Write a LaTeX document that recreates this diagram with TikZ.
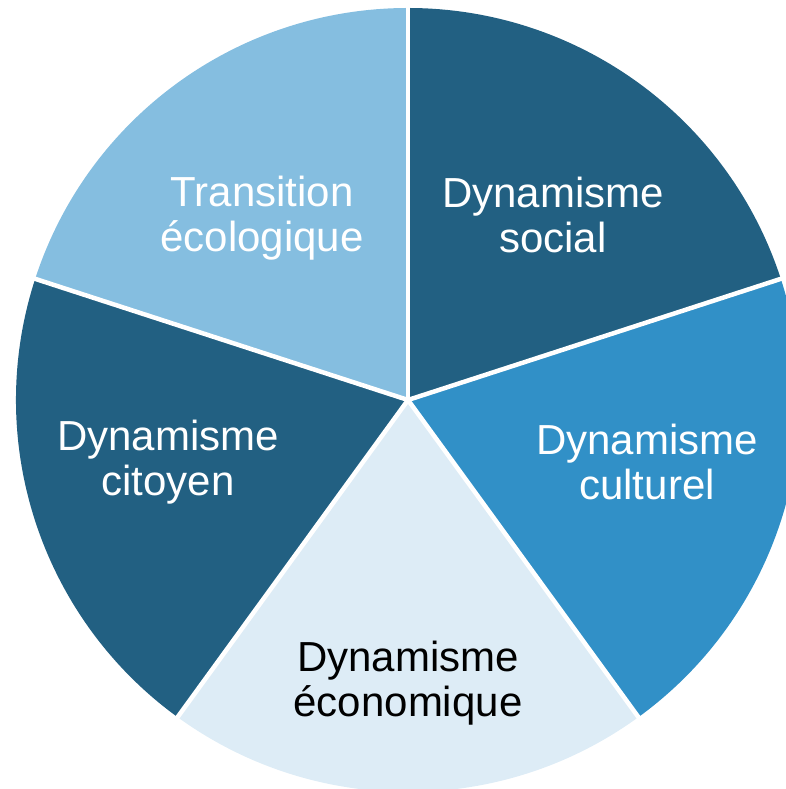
\documentclass[tikz,border=0pt]{standalone}
\usepackage{fontspec}
\setmainfont{Liberation Sans}
\usepackage{tikz}

\definecolor{piedark}{HTML}{226082}
\definecolor{piemid}{HTML}{3190C7}
\definecolor{piepale}{HTML}{DDECF6}
\definecolor{piesky}{HTML}{85BEE0}

\tikzset{
  slicelabel/.style={align=center,font=\fontsize{42}{44.5}\selectfont,text=white,inner sep=0pt},
  sep/.style={white,line width=4.5pt,line cap=butt}
}

\begin{document}
\begin{tikzpicture}[line join=round,x=1pt,y=1pt]
  \useasboundingbox (0,0) rectangle (786,789);
  \clip (0,0) rectangle (786,789);
  \coordinate (c) at (408,389);
  % five equal slices, clockwise from the top
  \fill [piedark] (c) -- ++(18:392) arc (18:90:392) -- cycle;
  \fill [piemid] (c) -- ++(-54:392) arc (-54:18:392) -- cycle;
  \fill [piepale] (c) -- ++(-126:392) arc (-126:-54:392) -- cycle;
  \fill [piedark] (c) -- ++(162:392) arc (162:234:392) -- cycle;
  \fill [piesky] (c) -- ++(90:392) arc (90:162:392) -- cycle;
  % white gaps between the slices
  \foreach \a in {90,18,-54,-126,162}
    \draw [sep] (c) -- ++(\a:400);
  % labels
  \node [slicelabel] (social) at (553,574) {Dynamisme\\social};
  \node [slicelabel] (culturel) at (647,327) {Dynamisme\\culturel};
  \node [slicelabel,text=black] (economique) at (408,106) {Dynamisme\\économique};
  \node [slicelabel] (citoyen) at (168,327) {Dynamisme\\citoyen};
  \node [slicelabel] (transition) at (262,571) {Transition\\écologique};
\end{tikzpicture}
\end{document}
